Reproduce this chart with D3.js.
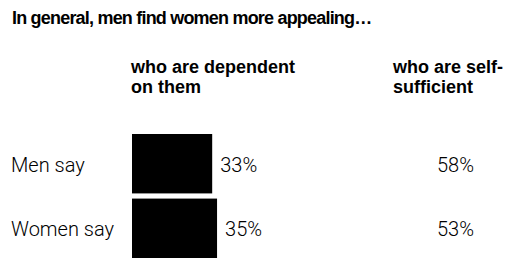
<!DOCTYPE html>
<html>
<head>
<meta charset="utf-8">
<script src="https://cdn.jsdelivr.net/npm/d3@7"></script>
<style>
  body { margin: 0; background: #fff; }
  svg { display: block; font-family: "Liberation Sans", Arial, Helvetica, sans-serif; }
  .light { font-family: Roboto, "Liberation Sans", Arial, sans-serif; font-weight: 300; }
</style>
</head>
<body>
<div id="chart"></div>
<script>
// Data
const title = "In general, men find women more appealing…";
const groups = ["Men say", "Women say"];
const columns = [["who are dependent", "on them"], ["who are self-", "sufficient"]];
const dependent = [33, 35];
const selfSufficient = [58, 53];

const width = 521;
const height = 258;

const svg = d3.select("#chart")
  .append("svg")
  .attr("width", width)
  .attr("height", height);

// Title
svg.append("text")
  .attr("x", 12)
  .attr("y", 24)
  .attr("font-size", "18px")
  .attr("font-weight", "bold")
  .attr("letter-spacing", "-0.8px")
  .attr("fill", "#000")
  .text(title);

// Column headers
const colX = [131, 393];
columns.forEach((lines, i) => {
  const t = svg.append("text")
    .attr("x", colX[i])
    .attr("y", 73)
    .attr("font-size", "18px")
    .attr("font-weight", "bold")
    .attr("fill", "#000");
  lines.forEach((line, j) => {
    t.append("tspan")
      .attr("x", colX[i])
      .attr("dy", j === 0 ? 0 : 20)
      .text(line);
  });
});

// Scales
const y = d3.scaleBand()
  .domain(groups)
  .range([134, 258])
  .paddingInner(0.08);

const x = d3.scaleLinear()
  .domain([0, 100])
  .range([132, 132 + 243]);

const mid = d => y(d) + y.bandwidth() / 2 + 8;

// Row labels
svg.selectAll(".row-label")
  .data(groups)
  .join("text")
  .attr("class", "row-label light")
  .attr("x", 11)
  .attr("y", mid)
  .attr("font-size", "20px")
  .attr("fill", "#000")
  .text(d => d);

// Bars for "dependent" column
svg.selectAll(".bar")
  .data(dependent)
  .join("rect")
  .attr("class", "bar")
  .attr("x", x(0))
  .attr("y", (d, i) => y(groups[i]))
  .attr("width", d => x(d) - x(0))
  .attr("height", y.bandwidth())
  .attr("fill", "#000");

// Value labels
svg.selectAll(".dep-label")
  .data(dependent)
  .join("text")
  .attr("class", "dep-label light")
  .attr("x", d => x(d) + 8)
  .attr("y", (d, i) => mid(groups[i]))
  .attr("font-size", "20px")
  .attr("fill", "#000")
  .text(d => d + "%");

svg.selectAll(".self-label")
  .data(selfSufficient)
  .join("text")
  .attr("class", "self-label light")
  .attr("x", 437)
  .attr("y", (d, i) => mid(groups[i]))
  .attr("font-size", "20px")
  .attr("fill", "#000")
  .text(d => d + "%");
</script>
</body>
</html>
